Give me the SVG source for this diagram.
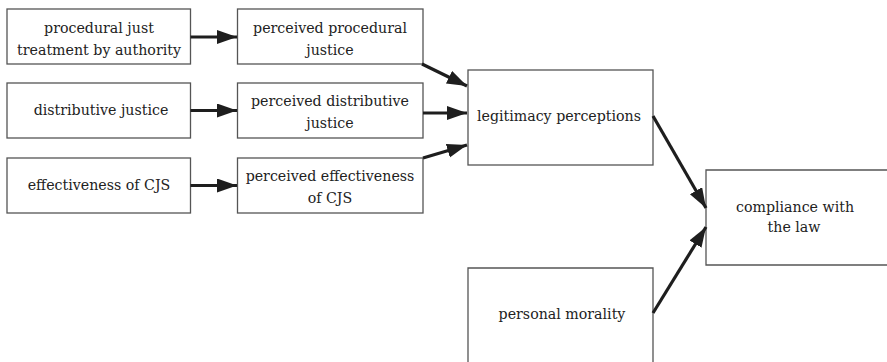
<svg xmlns="http://www.w3.org/2000/svg" width="887" height="362" viewBox="0 0 887 362">
<style>
.box{fill:#fff;stroke:#555;stroke-width:1.3}
.t{font-family:'DejaVu Serif','Liberation Serif',serif;font-size:14.2px;fill:#222;text-anchor:middle}
.c{stroke:#1e1e1e;stroke-width:3.2;fill:none;marker-end:url(#ah)}
</style>
<defs>
<marker id="ah" markerUnits="userSpaceOnUse" markerWidth="22" markerHeight="16" refX="20" refY="7" orient="auto">
<path d="M0,0 L20,7 L0,14 Z" fill="#1e1e1e"/>
</marker>
</defs>
<rect width="887" height="362" fill="#fff"/>
<g id="a1"><rect class="box" x="7" y="9" width="183.5" height="55"/><text class="t" x="99" y="33">procedural just</text><text class="t" x="99" y="55">treatment by authority</text></g>
<g id="a2"><rect class="box" x="7" y="83" width="183.5" height="55"/><text class="t" x="101" y="115">distributive justice</text></g>
<g id="a3"><rect class="box" x="7" y="158" width="183.5" height="55"/><text class="t" x="99" y="190">effectiveness of CJS</text></g>
<g id="b1"><rect class="box" x="237.5" y="9" width="185.5" height="55"/><text class="t" x="330" y="33">perceived procedural</text><text class="t" x="330" y="55">justice</text></g>
<g id="b2"><rect class="box" x="237.5" y="83" width="185.5" height="55"/><text class="t" x="330" y="106">perceived distributive</text><text class="t" x="330" y="128">justice</text></g>
<g id="b3"><rect class="box" x="237.5" y="158" width="185.5" height="55"/><text class="t" x="330" y="181">perceived effectiveness</text><text class="t" x="330" y="203">of CJS</text></g>
<g id="legit"><rect class="box" x="468" y="70" width="185" height="95"/><text class="t" x="559" y="121">legitimacy perceptions</text></g>
<g id="comp"><path class="box" d="M910,170 H706 V265 H910"/><text class="t" x="795" y="212">compliance with</text><text class="t" x="794" y="232">the law</text></g>
<g id="moral"><path class="box" d="M468,370 V268 H653 V370"/><text class="t" x="562" y="319">personal morality</text></g>
<g id="connectors">
<line class="c" x1="190.5" y1="37" x2="237" y2="37"/>
<line class="c" x1="190.5" y1="110.5" x2="237" y2="110.5"/>
<line class="c" x1="190.5" y1="185.5" x2="237" y2="185.5"/>
<line class="c" x1="422" y1="64" x2="467" y2="86"/>
<line class="c" x1="423" y1="113" x2="467" y2="113"/>
<line class="c" x1="423" y1="158" x2="467" y2="145"/>
<line class="c" x1="653" y1="116" x2="706" y2="208"/>
<line class="c" x1="653" y1="313" x2="706" y2="227"/>
</g>
</svg>
